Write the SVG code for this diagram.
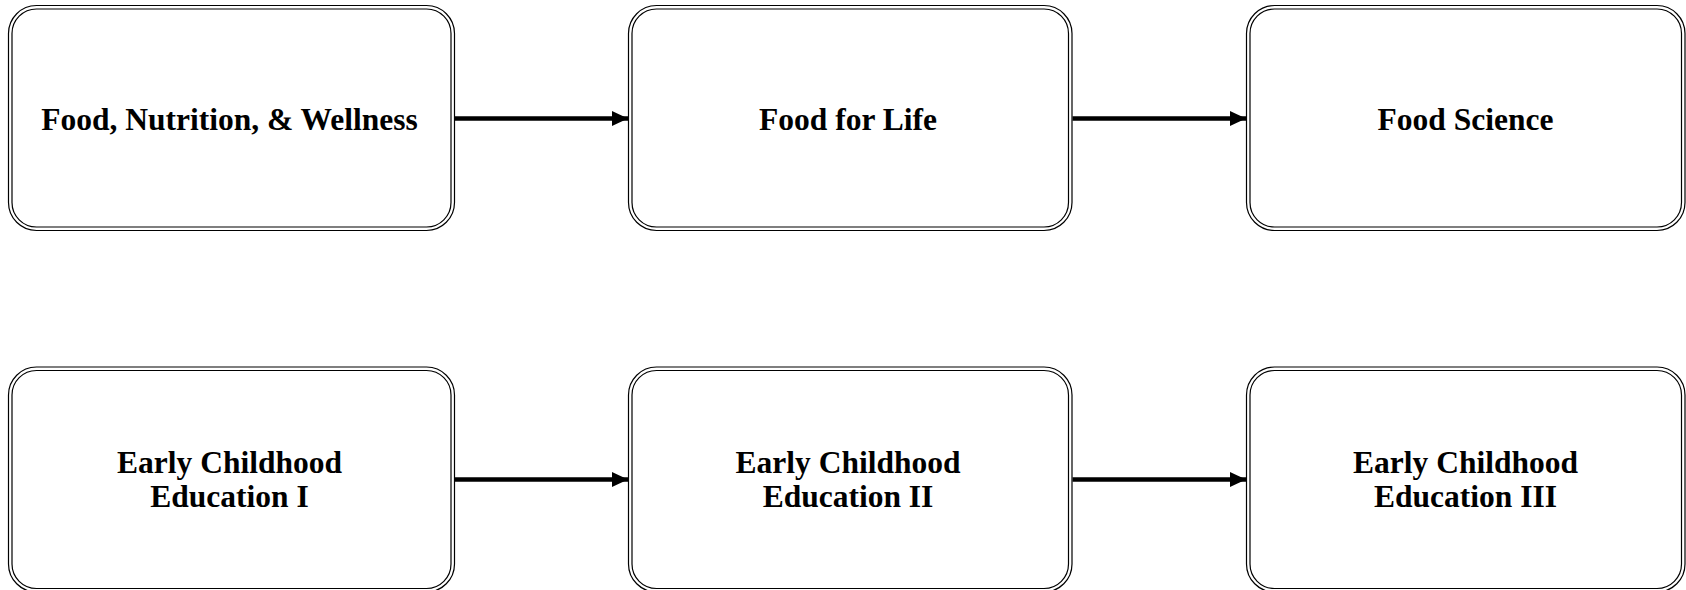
<svg xmlns="http://www.w3.org/2000/svg" width="1686" height="590" viewBox="0 0 1686 590">
<defs>
<style>
.o{fill:#fff;stroke:#000;stroke-width:1.2}
.i{fill:none;stroke:#000;stroke-width:1.2}
.t{font-family:"Liberation Serif","Times New Roman",serif;font-weight:bold;font-size:31.5px;fill:#000;text-anchor:middle}
.c{stroke:#000;stroke-width:4.5;fill:none}
</style>
<marker id="ah" markerUnits="userSpaceOnUse" markerWidth="16" markerHeight="16" refX="16" refY="8" orient="auto">
<polygon points="0,0.5 16,8 0,15.5" fill="#000"/>
</marker>
</defs>
<g id="n1">
<rect class="o" x="8.5" y="5.5" width="446" height="225" rx="28"/>
<rect class="i" x="12" y="9" width="439" height="218" rx="24.5"/>
<text class="t" x="229.5" y="130">Food, Nutrition, &amp; Wellness</text>
</g>
<g id="n2">
<rect class="o" x="628.5" y="5.5" width="443.5" height="225" rx="28"/>
<rect class="i" x="632" y="9" width="436.5" height="218" rx="24.5"/>
<text class="t" x="848" y="130">Food for Life</text>
</g>
<g id="n3">
<rect class="o" x="1246.5" y="5.5" width="438.5" height="225" rx="28"/>
<rect class="i" x="1250" y="9" width="431.5" height="218" rx="24.5"/>
<text class="t" x="1465.5" y="130">Food Science</text>
</g>
<g id="n4">
<rect class="o" x="8.5" y="367" width="446" height="225" rx="28"/>
<rect class="i" x="12" y="370.5" width="439" height="218" rx="24.5"/>
<text class="t" x="229.5" y="473">Early Childhood</text>
<text class="t" x="229.5" y="507">Education I</text>
</g>
<g id="n5">
<rect class="o" x="628.5" y="367" width="443.5" height="225" rx="28"/>
<rect class="i" x="632" y="370.5" width="436.5" height="218" rx="24.5"/>
<text class="t" x="848" y="473">Early Childhood</text>
<text class="t" x="848" y="507">Education II</text>
</g>
<g id="n6">
<rect class="o" x="1246.5" y="367" width="438.5" height="225" rx="28"/>
<rect class="i" x="1250" y="370.5" width="431.5" height="218" rx="24.5"/>
<text class="t" x="1465.5" y="473">Early Childhood</text>
<text class="t" x="1465.5" y="507">Education III</text>
</g>
<g id="connectors">
<line class="c" x1="455" y1="118.5" x2="628" y2="118.5" marker-end="url(#ah)"/>
<line class="c" x1="1072.5" y1="118.5" x2="1246" y2="118.5" marker-end="url(#ah)"/>
<line class="c" x1="455" y1="479.5" x2="628" y2="479.5" marker-end="url(#ah)"/>
<line class="c" x1="1072.5" y1="479.5" x2="1246" y2="479.5" marker-end="url(#ah)"/>
</g>
</svg>
